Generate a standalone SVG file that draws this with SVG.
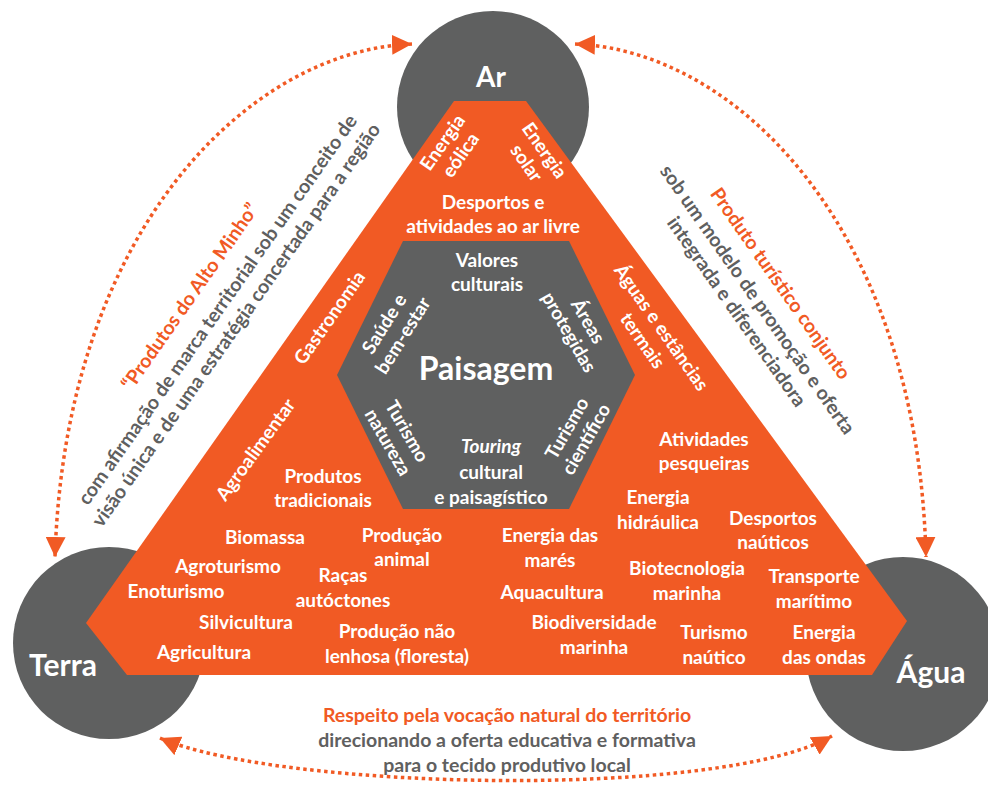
<svg xmlns="http://www.w3.org/2000/svg" width="988" height="785" viewBox="0 0 988 785">
<style>
text{font-family:Lato,"Liberation Sans",Arial,sans-serif;font-weight:700;text-anchor:middle}
.w{fill:#ffffff;font-size:19px}
.big{fill:#ffffff;font-size:30px}
.o{fill:#F15A24;font-size:19.5px}
.g{fill:#5F6060;font-size:19.5px}
.circ{fill:#5F6060}
.dot{fill:none;stroke:#F15A24;stroke-width:3.5;stroke-dasharray:3.5 3.5}
</style>
<defs>
<marker id="ah" viewBox="0 0 20 20" refX="20" refY="10" markerWidth="20" markerHeight="20" markerUnits="userSpaceOnUse" orient="auto-start-reverse">
<path d="M0,0 L20,10 L0,20 z" fill="#F15A24"/>
</marker>
</defs>

<g id="ar"><circle class="circ" cx="493" cy="107" r="96"/><text class="big" x="491" y="87" style="font-size:28px">Ar</text></g>
<g id="terra"><circle class="circ" cx="109" cy="643" r="96"/></g>
<g id="agua"><circle class="circ" cx="903" cy="654" r="97"/></g>

<g id="triangle"><polygon points="454,101 526,101 907,621 872,675 127,675 86,623" fill="#F15A24"/></g>
<g id="paisagem"><polygon points="403,241 569,241 635,375 569,509 403,509 337,375" fill="#5F6060"/>
<text class="w" x="486" y="380" style="font-size:32px">Paisagem</text>
</g>

<g id="terra-label"><text class="big" x="63" y="676">Terra</text></g>
<g id="agua-label"><text class="big" x="931" y="683">Água</text></g>

<g id="energia-eolica" transform="translate(452,149) rotate(-55)"><text class="w" y="-5">Energia</text><text class="w" y="17">eólica</text></g>
<g id="energia-solar" transform="translate(535,157) rotate(55)"><text class="w" y="-5">Energia</text><text class="w" y="17">solar</text></g>
<g id="desportos-ar"><text class="w" x="493" y="209">Desportos e</text><text class="w" x="493" y="233">atividades ao ar livre</text></g>

<g id="valores"><text class="w" x="487" y="267">Valores</text><text class="w" x="487" y="291">culturais</text></g>
<g id="saude" transform="translate(394,330) rotate(-58)"><text class="w" y="-5">Saúde e</text><text class="w" y="17">bem-estar</text></g>
<g id="areas" transform="translate(578,327) rotate(60)"><text class="w" y="-5">Áreas</text><text class="w" y="17">protegidas</text></g>
<g id="turismo-natureza" transform="translate(397,437) rotate(60)"><text class="w" y="-5">Turismo</text><text class="w" y="17">natureza</text></g>
<g id="turismo-cientifico" transform="translate(577,434) rotate(-60)"><text class="w" y="-5">Turismo</text><text class="w" y="17">científico</text></g>
<g id="touring"><text class="w" x="491" y="453" style="font-style:italic">Touring</text><text class="w" x="491" y="479">cultural</text><text class="w" x="491" y="504">e paisagístico</text></g>

<g id="gastronomia"><text class="w" transform="translate(330,318) rotate(-55)" y="6">Gastronomia</text></g>
<g id="agroalimentar"><text class="w" transform="translate(256,450) rotate(-54)" y="6">Agroalimentar</text></g>
<g id="aguas-termais" transform="translate(652,334) rotate(55)"><text class="w" y="-5">Águas e estâncias</text><text class="w" y="18">termais</text></g>

<g id="produtos-tradicionais"><text class="w" x="323" y="483">Produtos</text><text class="w" x="323" y="507">tradicionais</text></g>
<g id="biomassa"><text class="w" x="265" y="544">Biomassa</text></g>
<g id="producao-animal"><text class="w" x="402" y="542">Produção</text><text class="w" x="402" y="566">animal</text></g>
<g id="agroturismo"><text class="w" x="228" y="573">Agroturismo</text></g>
<g id="racas"><text class="w" x="343" y="582">Raças</text><text class="w" x="343" y="607">autóctones</text></g>
<g id="enoturismo"><text class="w" x="176" y="598">Enoturismo</text></g>
<g id="silvicultura"><text class="w" x="246" y="629">Silvicultura</text></g>
<g id="producao-nao-lenhosa"><text class="w" x="397" y="638">Produção não</text><text class="w" x="397" y="663">lenhosa (floresta)</text></g>
<g id="agricultura"><text class="w" x="204" y="659">Agricultura</text></g>

<g id="atividades-pesqueiras"><text class="w" x="704" y="446">Atividades</text><text class="w" x="704" y="470">pesqueiras</text></g>
<g id="energia-hidraulica"><text class="w" x="658" y="504">Energia</text><text class="w" x="658" y="529">hidráulica</text></g>
<g id="desportos-nauticos"><text class="w" x="773" y="525">Desportos</text><text class="w" x="773" y="549">naúticos</text></g>
<g id="energia-mares"><text class="w" x="550" y="542">Energia das</text><text class="w" x="550" y="567">marés</text></g>
<g id="biotecnologia"><text class="w" x="687" y="575">Biotecnologia</text><text class="w" x="687" y="600">marinha</text></g>
<g id="transporte"><text class="w" x="814" y="583">Transporte</text><text class="w" x="814" y="608">marítimo</text></g>
<g id="aquacultura"><text class="w" x="552" y="599">Aquacultura</text></g>
<g id="biodiversidade"><text class="w" x="594" y="629">Biodiversidade</text><text class="w" x="594" y="654">marinha</text></g>
<g id="turismo-nautico"><text class="w" x="714" y="639">Turismo</text><text class="w" x="714" y="664">naútico</text></g>
<g id="energia-ondas"><text class="w" x="824" y="639">Energia</text><text class="w" x="824" y="664">das ondas</text></g>

<g id="texto-esquerda" transform="translate(218,310) rotate(-55)">
<text class="o" x="-5" y="-24">“Produtos do Alto Minho”</text>
<text class="g" x="0" y="6">com afirmação de marca territorial sob um conceito de</text>
<text class="g" x="-2" y="30">visão única e de uma estratégia concertada para a região</text>
</g>
<g id="texto-direita" transform="translate(757,300) rotate(55)">
<text class="o" x="0" y="-22">Produto turístico conjunto</text>
<text class="g" x="0" y="6">sob um modelo de promoção e  oferta</text>
<text class="g" x="-2" y="30">integrada e diferenciadora</text>
</g>
<g id="texto-baixo">
<text class="o" x="507" y="722">Respeito pela vocação natural do território</text>
<text class="g" x="507" y="747">direcionando a oferta educativa e formativa</text>
<text class="g" x="507" y="772">para o tecido produtivo local</text>
</g>

<g id="connectors">
<path class="dot" d="M412,44 C250,50 65,230 55,557" marker-start="url(#ah)" marker-end="url(#ah)"/>
<path class="dot" d="M575,44 C737,50 918,230 926,557" marker-start="url(#ah)" marker-end="url(#ah)"/>
<path class="dot" d="M160,738 C280,790 720,800 832,736" marker-start="url(#ah)" marker-end="url(#ah)"/>
</g>
</svg>
